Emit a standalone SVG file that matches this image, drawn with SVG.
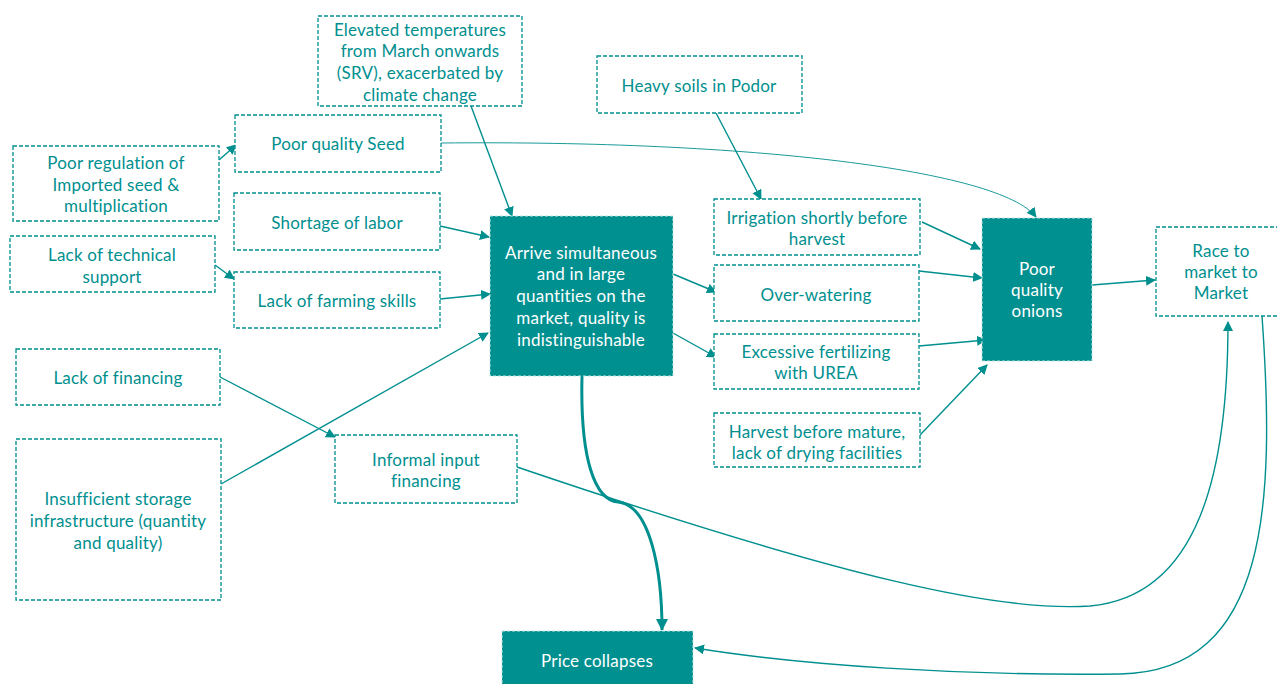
<svg xmlns="http://www.w3.org/2000/svg" width="1277" height="684" viewBox="0 0 1277 684">
<defs>
<marker id="ah" markerWidth="10" markerHeight="10" refX="9" refY="5" orient="auto" markerUnits="userSpaceOnUse">
<path d="M0,0 L10,5 L0,10 z" fill="#008f8f"/>
</marker>
<marker id="ahb" markerWidth="12" markerHeight="12" refX="11" refY="6" orient="auto" markerUnits="userSpaceOnUse">
<path d="M0,0 L12,6 L0,12 z" fill="#008f8f"/>
</marker>
</defs>
<style>
.b{fill:#fff;stroke:#008f8f;stroke-width:1.3;stroke-dasharray:4 2}
.f{fill:#009090;stroke:#bfe3e3;stroke-width:1;stroke-dasharray:3 2}
text{font-family:Lato,"Open Sans","Liberation Sans",sans-serif;font-size:17px;letter-spacing:0.2px;text-anchor:middle;dominant-baseline:central}
.t{fill:#008f8f}
.w{fill:#fff}
.c{fill:none;stroke:#008f8f;stroke-width:1.4}
</style>
<rect width="1277" height="684" fill="#fff"/>
<g id="connectors">
<path class="c" d="M219,160 L236,145" marker-end="url(#ah)"/>
<path class="c" d="M215,265 L234,279" marker-end="url(#ah)"/>
<path class="c" d="M471,106 L512,216" marker-end="url(#ah)"/>
<path class="c" d="M440,226 L489,237" marker-end="url(#ah)"/>
<path class="c" d="M440,299 L490,294" marker-end="url(#ah)"/>
<path class="c" d="M221,484 L488,333" marker-end="url(#ah)"/>
<path class="c" d="M220,377 L335,437" marker-end="url(#ah)"/>
<path class="c" d="M441,143 C 750,140 1000,170 1036,217" style="stroke-width:0.9" marker-end="url(#ah)"/>
<path class="c" d="M716,113 L761,199" marker-end="url(#ah)"/>
<path class="c" d="M673,274 L716,292" marker-end="url(#ah)"/>
<path class="c" d="M673,333 L716,357" marker-end="url(#ah)"/>
<path class="c" d="M922,222 L980,249" marker-end="url(#ah)"/>
<path class="c" d="M919,271 L982,278" marker-end="url(#ah)"/>
<path class="c" d="M919,346 L986,340" marker-end="url(#ah)"/>
<path class="c" d="M920,435 L987,365" marker-end="url(#ah)"/>
<path class="c" d="M1092,285 L1155,280" marker-end="url(#ah)"/>
<path class="c" d="M582,376 C 580,460 595,500 618,502 C 650,505 662,570 662,630" style="stroke-width:3" marker-end="url(#ahb)"/>
<path class="c" d="M517,467 C 850,580 1000,612 1090,606 C 1200,596 1228,470 1228,322" marker-end="url(#ah)"/>
<path class="c" d="M1262,316 C 1275,500 1270,672 1120,674 C 960,676 800,665 695,648" marker-end="url(#ah)"/>
</g>
<g id="n-elevated"><rect class="b" x="318" y="16" width="204" height="90"/>
<text class="t" x="420" y="29">Elevated temperatures</text><text class="t" x="420" y="50">from March onwards</text><text class="t" x="420" y="72">(SRV), exacerbated by</text><text class="t" x="420" y="94">climate change</text></g>
<g id="n-heavy"><rect class="b" x="597" y="56" width="205" height="57"/><text class="t" x="699" y="85">Heavy soils in Podor</text></g>
<g id="n-seed"><rect class="b" x="235" y="115" width="206" height="57"/><text class="t" x="338" y="143">Poor quality Seed</text></g>
<g id="n-regulation"><rect class="b" x="13" y="146" width="206" height="75"/>
<text class="t" x="116" y="162">Poor regulation of</text><text class="t" x="116" y="184">Imported seed &amp;</text><text class="t" x="116" y="205">multiplication</text></g>
<g id="n-labor"><rect class="b" x="234" y="193" width="206" height="57"/><text class="t" x="337" y="222">Shortage of labor</text></g>
<g id="n-technical"><rect class="b" x="10" y="236" width="205" height="56"/>
<text class="t" x="112" y="254">Lack of technical</text><text class="t" x="112" y="276">support</text></g>
<g id="n-skills"><rect class="b" x="234" y="272" width="206" height="56"/><text class="t" x="337" y="300">Lack of farming skills</text></g>
<g id="n-financing"><rect class="b" x="16" y="349" width="204" height="56"/><text class="t" x="118" y="377">Lack of financing</text></g>
<g id="n-storage"><rect class="b" x="16" y="439" width="205" height="161"/>
<text class="t" x="118" y="498">Insufficient storage</text><text class="t" x="118" y="520">infrastructure (quantity</text><text class="t" x="118" y="542">and quality)</text></g>
<g id="n-informal"><rect class="b" x="335" y="435" width="182" height="68"/>
<text class="t" x="426" y="459">Informal input</text><text class="t" x="426" y="480">financing</text></g>
<g id="n-arrive"><rect class="f" x="490" y="216" width="183" height="160"/>
<text class="w" x="581" y="252">Arrive simultaneous</text><text class="w" x="581" y="273">and in large</text><text class="w" x="581" y="295">quantities on the</text><text class="w" x="581" y="317">market, quality is</text><text class="w" x="581" y="339">indistinguishable</text></g>
<g id="n-irrigation"><rect class="b" x="714" y="199" width="206" height="56"/>
<text class="t" x="817" y="217">Irrigation shortly before</text><text class="t" x="817" y="238">harvest</text></g>
<g id="n-overwater"><rect class="b" x="714" y="265" width="205" height="56"/><text class="t" x="816" y="294">Over-watering</text></g>
<g id="n-fertilizing"><rect class="b" x="714" y="334" width="205" height="55"/>
<text class="t" x="816" y="351">Excessive fertilizing</text><text class="t" x="816" y="372">with UREA</text></g>
<g id="n-harvest"><rect class="b" x="714" y="413" width="206" height="54"/>
<text class="t" x="817" y="431">Harvest before mature,</text><text class="t" x="817" y="452">lack of drying facilities</text></g>
<g id="n-onions"><rect class="f" x="982" y="218" width="110" height="143"/>
<text class="w" x="1037" y="268">Poor</text><text class="w" x="1037" y="289">quality</text><text class="w" x="1037" y="310">onions</text></g>
<g id="n-race"><rect class="b" x="1156" y="227" width="130" height="89"/>
<text class="t" x="1221" y="250">Race to</text><text class="t" x="1221" y="271">market  to</text><text class="t" x="1221" y="292">Market</text></g>
<g id="n-price"><rect class="f" x="502" y="631" width="191" height="60"/><text class="w" x="597" y="660">Price collapses</text></g>
</svg>
